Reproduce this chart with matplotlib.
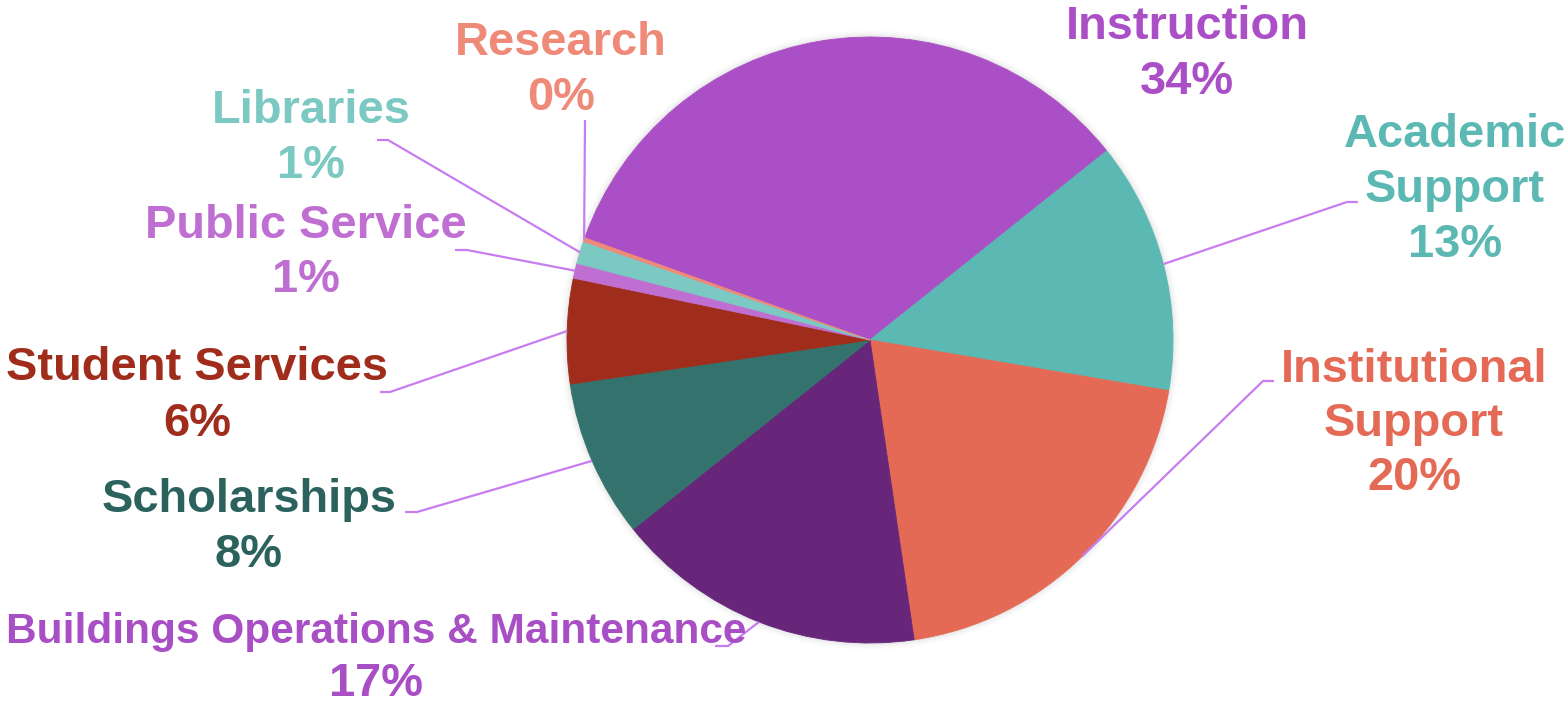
import numpy as np
import matplotlib.pyplot as plt
from matplotlib.patches import Circle

# spending share by function (percent)
categories = ["Instruction", "Academic\nSupport", "Institutional\nSupport",
              "Buildings Operations & Maintenance", "Scholarships",
              "Student Services", "Public Service", "Libraries", "Research"]
shares = [33.8, 13.4, 20.0, 16.6, 8.4, 5.6, 0.8, 1.2, 0.2]

slice_colors = ["#AB4FC6", "#5CB8B2", "#E46A55", "#68267B", "#33726D",
                "#A02C1B", "#BF6FD1", "#7CC8C2", "#EE8A77"]
text_colors = ["#AB4FC6", "#5CB8B2", "#E46A55", "#A94FC5", "#2B625D",
               "#A02C1B", "#BF6FD1", "#7CC8C2", "#EE8A77"]

W, H = 1565, 701
CX, CY, R = 870, 340, 303
LEADER = "#C77DF0"

# label layout in pixels from top-left: text centre x, first baseline y,
# line step, elbow, line end
label_pos = [
    (1187, 39, 55, None, None),
    (1455, 147, 55, (1347, 202), (1358, 202)),
    (1414, 382, 54, (1263, 381), (1274, 381)),
    (376, 643, 53, (728, 646), (715, 646)),
    (249, 512, 55, (417, 512), (405, 512)),
    (197, 380, 56, (390, 392), (380, 392)),
    (306, 238, 54, (467, 250), (455, 250)),
    (311, 123, 55, (388, 140), (377, 140)),
    (561, 55, 55, (585, 120), None),
]

plt.rcParams['font.family'] = ['Liberation Sans', 'DejaVu Sans']

fig = plt.figure(figsize=(W / 100, H / 100), dpi=100)
ax = fig.add_axes([0, 0, 1, 1])


def fy(y):
    return H - y


# soft shadow around the pie
for extra, a in [(7, 0.025), (5, 0.035), (3, 0.05), (1.5, 0.07)]:
    ax.add_patch(Circle((CX, fy(CY)), R + extra, color="#888888", alpha=a,
                        lw=0, zorder=1))

wedges, _ = ax.pie(shares, colors=slice_colors, startangle=160.3,
                   counterclock=False, radius=R, center=(CX, fy(CY)),
                   wedgeprops=dict(linewidth=0.6))
for w, c in zip(wedges, slice_colors):
    w.set_edgecolor(c)
    w.set_zorder(2)

ax.set_xlim(0, W)
ax.set_ylim(0, H)
ax.set_aspect('equal')
ax.axis('off')

for w, name, share, tc, (lx, ly, step, elbow, end) in zip(
        wedges, categories, shares, text_colors, label_pos):
    lines = name.split("\n")
    for i, line in enumerate(lines):
        size = 30.5 if len(line) > 25 else 33.8
        ax.text(lx, fy(ly + i * step), line, ha='center', va='baseline',
                color=tc, fontsize=size, fontweight='bold', zorder=4)
    ax.text(lx, fy(ly + len(lines) * step), f"{round(share)}%",
            ha='center', va='baseline', color=tc, fontsize=33.8,
            fontweight='bold', zorder=4)

    if elbow is None:
        continue
    mid = np.deg2rad((w.theta1 + w.theta2) / 2)
    sx, sy = CX + R * np.cos(mid), fy(CY) + R * np.sin(mid)
    xs = [sx, elbow[0]]
    ys = [sy, fy(elbow[1])]
    if end is not None:
        xs.append(end[0])
        ys.append(fy(end[1]))
    ax.plot(xs, ys, color=LEADER, lw=1.6, zorder=3, solid_capstyle='butt')

fig.savefig("out.png", dpi=100, facecolor="white")
